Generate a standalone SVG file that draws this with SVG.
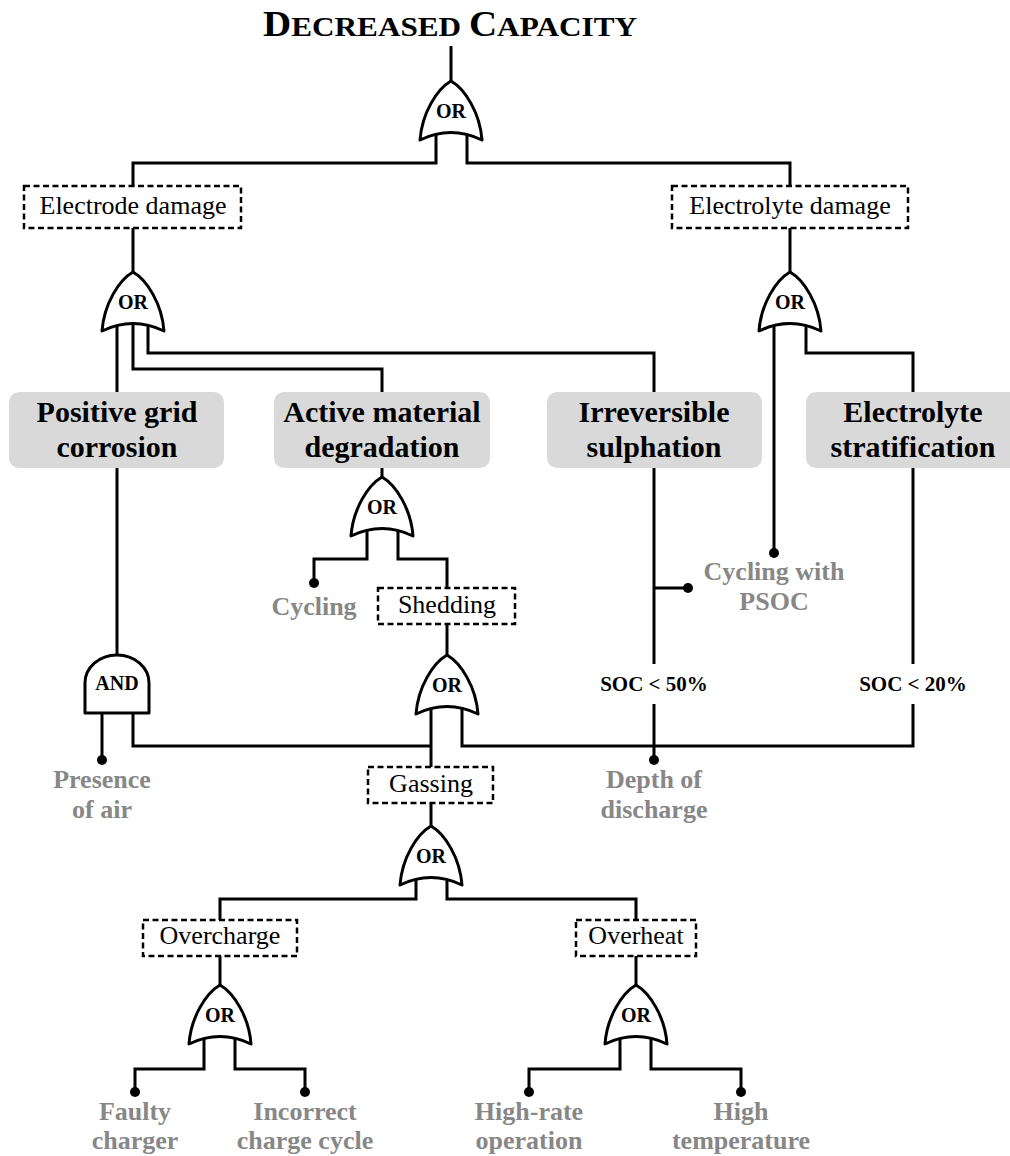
<svg xmlns="http://www.w3.org/2000/svg" width="1010" height="1156" viewBox="0 0 1010 1156">
<defs>
<style>
.ln{fill:none;stroke:#000;stroke-width:3;stroke-linejoin:miter;stroke-linecap:butt}
.gate{fill:#fff;stroke:#000;stroke-width:3;stroke-linejoin:round}
.dash{fill:#fff;stroke:#000;stroke-width:2.5;stroke-dasharray:6 3.5}
.ev{fill:#d9d9d9;stroke:none}
.dot{fill:#000}
text{font-family:"Liberation Serif","Times New Roman",serif;text-anchor:middle}
.gl{font-size:20px;font-weight:bold}
.bl{font-size:26px}
.ev-t{font-size:30px;font-weight:bold}
.gr{font-size:26px;font-weight:bold;fill:#878787}
.soc{font-size:21px;font-weight:bold}
</style>
<path id="or" d="M0,0 C-14,8 -29,32 -31,59 Q0,44 31,59 C29,32 14,8 0,0 Z"/>
</defs>
<rect width="1010" height="1156" fill="#fff"/>

<g id="title">
<text x="450" y="36" textLength="374" lengthAdjust="spacingAndGlyphs" style="font-weight:bold"><tspan style="font-size:35px">D</tspan><tspan style="font-size:28px">ECREASED </tspan><tspan style="font-size:35px">C</tspan><tspan style="font-size:28px">APACITY</tspan></text>
</g>

<g id="connectors">
<path class="ln" d="M451,46 V90"/>
<path class="ln" d="M436,130 V163 H133 V186"/>
<path class="ln" d="M467,130 V163 H790 V186"/>
<path class="ln" d="M133,228 V280"/>
<path class="ln" d="M117,320 V392"/>
<path class="ln" d="M133,320 V369 H382 V392"/>
<path class="ln" d="M148,320 V353 H654 V392"/>
<path class="ln" d="M790,228 V280"/>
<path class="ln" d="M774,320 V553"/>
<path class="ln" d="M806,320 V353 H913 V392"/>
<path class="ln" d="M117,468 V665"/>
<path class="ln" d="M102,705 V760"/>
<path class="ln" d="M133,705 V746 H431"/>
<path class="ln" d="M382,468 V485"/>
<path class="ln" d="M367,525 V559 H314 V583"/>
<path class="ln" d="M398,525 V559 H447 V588"/>
<path class="ln" d="M447,624 V663"/>
<path class="ln" d="M431,703 V767"/>
<path class="ln" d="M462,703 V746 H913 V704"/>
<path class="ln" d="M654,468 V664"/>
<path class="ln" d="M654,588 H688"/>
<path class="ln" d="M654,704 V760"/>
<path class="ln" d="M913,468 V664"/>
<path class="ln" d="M431,803 V834"/>
<path class="ln" d="M416,874 V899 H220 V920"/>
<path class="ln" d="M447,874 V899 H636 V920"/>
<path class="ln" d="M220,956 V993"/>
<path class="ln" d="M204,1033 V1069 H135 V1092"/>
<path class="ln" d="M235,1033 V1069 H305 V1092"/>
<path class="ln" d="M636,956 V993"/>
<path class="ln" d="M620,1033 V1069 H529 V1092"/>
<path class="ln" d="M651,1033 V1069 H741 V1092"/>
<circle class="dot" cx="774" cy="553" r="5"/>
<circle class="dot" cx="102" cy="760" r="5"/>
<circle class="dot" cx="314" cy="583" r="5"/>
<circle class="dot" cx="688" cy="588" r="5"/>
<circle class="dot" cx="654" cy="760" r="5"/>
<circle class="dot" cx="135" cy="1092" r="5"/>
<circle class="dot" cx="305" cy="1092" r="5"/>
<circle class="dot" cx="529" cy="1092" r="5"/>
<circle class="dot" cx="741" cy="1092" r="5"/>
</g>

<g id="gate-top"><use href="#or" class="gate" x="451" y="81"/><text class="gl" x="451" y="118">OR</text></g>

<g id="electrode-damage"><rect class="dash" x="24" y="186" width="217" height="42"/><text class="bl" x="133" y="214">Electrode damage</text></g>
<g id="gate-electrode"><use href="#or" class="gate" x="133" y="272"/><text class="gl" x="133" y="309">OR</text></g>

<g id="electrolyte-damage"><rect class="dash" x="672" y="186" width="236" height="42"/><text class="bl" x="790" y="214">Electrolyte damage</text></g>
<g id="gate-electrolyte"><use href="#or" class="gate" x="790" y="272"/><text class="gl" x="790" y="309">OR</text></g>

<g id="positive-grid"><rect class="ev" x="9" y="392" width="215" height="76" rx="10"/><text class="ev-t" x="117" y="422">Positive grid</text><text class="ev-t" x="117" y="457">corrosion</text></g>
<g id="active-material"><rect class="ev" x="274" y="392" width="216" height="76" rx="10"/><text class="ev-t" x="382" y="422">Active material</text><text class="ev-t" x="382" y="457">degradation</text></g>
<g id="irreversible"><rect class="ev" x="547" y="392" width="215" height="76" rx="10"/><text class="ev-t" x="654" y="422">Irreversible</text><text class="ev-t" x="654" y="457">sulphation</text></g>
<g id="stratification"><rect class="ev" x="806" y="392" width="215" height="76" rx="10"/><text class="ev-t" x="913" y="422">Electrolyte</text><text class="ev-t" x="913" y="457">stratification</text></g>

<g id="gate-active"><use href="#or" class="gate" x="382" y="477"/><text class="gl" x="382" y="514">OR</text></g>
<g id="cycling"><text class="gr" x="314" y="615">Cycling</text></g>
<g id="shedding"><rect class="dash" x="378" y="588" width="137" height="36"/><text class="bl" x="447" y="613">Shedding</text></g>
<g id="gate-shedding"><use href="#or" class="gate" x="447" y="655"/><text class="gl" x="447" y="692">OR</text></g>

<g id="gate-and"><path class="gate" d="M85,713 V683 A32,28 0 0 1 149,683 V713 Z"/><text class="gl" x="117" y="690">AND</text></g>
<g id="presence-air"><text class="gr" x="102" y="788">Presence</text><text class="gr" x="102" y="818">of air</text></g>

<g id="cycling-psoc"><text class="gr" x="774" y="580">Cycling with</text><text class="gr" x="774" y="610">PSOC</text></g>
<g id="soc50"><text class="soc" x="654" y="691">SOC &lt; 50%</text></g>
<g id="soc20"><text class="soc" x="913" y="691">SOC &lt; 20%</text></g>
<g id="depth-discharge"><text class="gr" x="654" y="788">Depth of</text><text class="gr" x="654" y="818">discharge</text></g>

<g id="gassing"><rect class="dash" x="368" y="767" width="125" height="36"/><text class="bl" x="431" y="792">Gassing</text></g>
<g id="gate-gassing"><use href="#or" class="gate" x="431" y="826"/><text class="gl" x="431" y="863">OR</text></g>

<g id="overcharge"><rect class="dash" x="143" y="920" width="154" height="36"/><text class="bl" x="220" y="944">Overcharge</text></g>
<g id="gate-overcharge"><use href="#or" class="gate" x="220" y="985"/><text class="gl" x="220" y="1022">OR</text></g>
<g id="overheat"><rect class="dash" x="576" y="920" width="120" height="36"/><text class="bl" x="636" y="944">Overheat</text></g>
<g id="gate-overheat"><use href="#or" class="gate" x="636" y="985"/><text class="gl" x="636" y="1022">OR</text></g>

<g id="faulty-charger"><text class="gr" x="135" y="1120">Faulty</text><text class="gr" x="135" y="1149">charger</text></g>
<g id="incorrect-cycle"><text class="gr" x="305" y="1120">Incorrect</text><text class="gr" x="305" y="1149">charge cycle</text></g>
<g id="high-rate"><text class="gr" x="529" y="1120">High-rate</text><text class="gr" x="529" y="1149">operation</text></g>
<g id="high-temp"><text class="gr" x="741" y="1120">High</text><text class="gr" x="741" y="1149">temperature</text></g>
</svg>
